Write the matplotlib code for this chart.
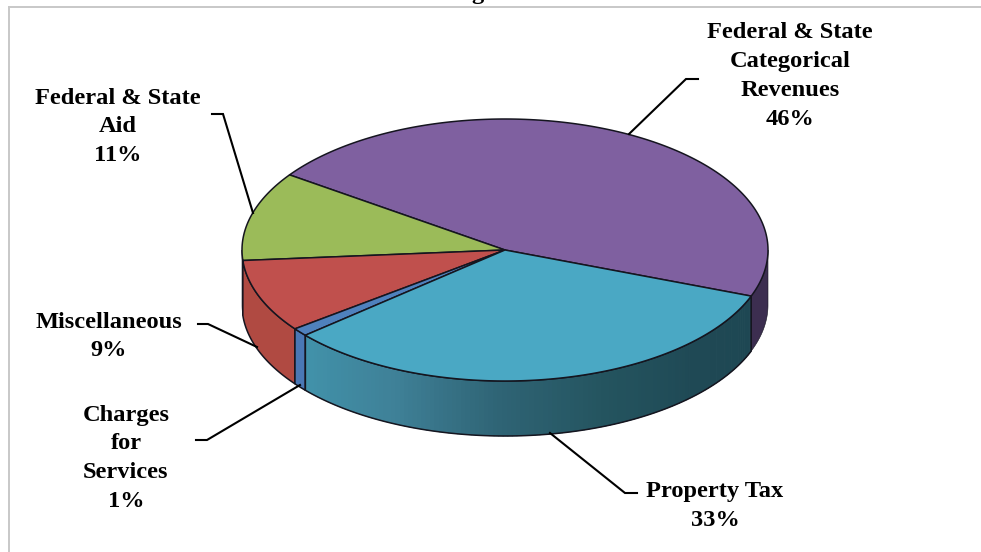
import numpy as np
import matplotlib
matplotlib.use("Agg")
from matplotlib import pyplot as plt
from matplotlib.colors import LinearSegmentedColormap

# budget shares, counter-clockwise from the purple slice
names = ["Federal & State\nCategorical\nRevenues", "Federal & State\nAid", "Miscellaneous",
         "Charges\nfor\nServices", "Property Tax"]
shares = [46, 11, 9, 1, 33]
tops = ["#7f60a0", "#9bbb59", "#c0504d", "#4f81bd", "#4aa8c4"]
sides = ["#3c2e50", "#7c9647", "#b04a42", "#4a78b5", "#2e6a7c"]

# label centre x, first line y, and leader line for each slice
label_x = [790, 118, 109, 126, 715]
label_y = [33, 98, 322, 415, 492]
leaders = [
    [(629, 134), (686, 79), (698, 79)],
    [(253, 213), (223, 114), (212, 114)],
    [(257, 347), (208, 324), (198, 324)],
    [(300, 385), (207, 440), (196, 440)],
    [(550, 433), (625, 493), (637, 493)],
]

cx, cy, rx, ry, depth = 505, 250, 263, 131, 55
start = -20.6
line_color = "#15151f"

teal_wall = LinearSegmentedColormap.from_list(
    "teal_wall", ["#4192aa", "#3f8198", "#2f6475", "#24545f", "#1f4955", "#1e4753"])


def ellipse(a, drop=0):
    a = np.radians(a)
    return cx + rx * np.cos(a), cy - ry * np.sin(a) + drop


def wall_outline(lo, hi):
    arc = np.linspace(lo, hi, 120)
    xs, ys = ellipse(arc)
    xb, yb = ellipse(arc[::-1], depth)
    return np.r_[xs, xb], np.r_[ys, yb]


fig = plt.figure(figsize=(9.81, 5.52), dpi=100)
ax = fig.add_axes([0, 0, 1, 1])
ax.set_xlim(0, 981)
ax.set_ylim(552, 0)
ax.axis("off")

# frame
ax.plot([9, 9], [552, 7], color="#c8c8c8", lw=1.4, zorder=1)
ax.plot([9, 981], [7, 7], color="#c8c8c8", lw=1.4, zorder=1)

edges = start + np.cumsum([0] + shares) * 3.6

# outer walls, only the part facing down is visible
for i in range(len(shares)):
    a0, a1 = edges[i], edges[i + 1]
    # a slice crossing 0 degrees shows its wall on the negative side
    if a0 < 0:
        lo, hi = a0, min(a1, 0)
    else:
        lo, hi = max(a0, 180), min(a1, 360)
    if lo >= hi:
        continue
    if names[i] == "Property Tax":
        steps = np.linspace(lo, hi, 120)
        for s0, s1 in zip(steps[:-1], steps[1:]):
            xs, ys = wall_outline(s0, s1 + 0.2)
            shade = teal_wall((s0 - lo) / (hi - lo))
            ax.fill(xs, ys, facecolor=shade, edgecolor=shade, lw=0.4, zorder=2)
        xs, ys = wall_outline(lo, hi)
        ax.fill(xs, ys, facecolor="none", edgecolor=line_color, lw=1.1, zorder=3)
    else:
        # the sliver at the far left is only a pixel wide, a full outline turns it black
        xs, ys = wall_outline(lo, hi)
        ax.fill(xs, ys, facecolor=sides[i], edgecolor=line_color, lw=0.4 if hi < 186 else 1.1, zorder=3)

# top face
for i in range(len(shares)):
    arc = np.linspace(edges[i], edges[i + 1], 160)
    xs, ys = ellipse(arc)
    ax.fill(np.r_[cx, xs], np.r_[cy, ys], facecolor=tops[i], edgecolor=line_color, lw=1.1,
            joinstyle="round", zorder=4)

for i in range(len(shares)):
    pts = np.array(leaders[i])
    ax.plot(pts[:, 0], pts[:, 1], color="black", lw=1.5, solid_joinstyle="miter", zorder=5)
    text = names[i] + "\n" + str(shares[i]) + "%"
    for j, line in enumerate(text.split("\n")):
        ax.text(label_x[i], label_y[i] + j * 28.8, line, ha="center", va="center",
                family="Liberation Serif", weight="bold", fontsize=17.6, color="black", zorder=6)

# title sits above the top edge, only its descender stays on the canvas
ax.text(478, -1.5, "g", ha="center", va="baseline", family="Liberation Serif", weight="bold",
        fontsize=17.6, color="black", clip_on=True)

fig.savefig("out.png", dpi=100)
